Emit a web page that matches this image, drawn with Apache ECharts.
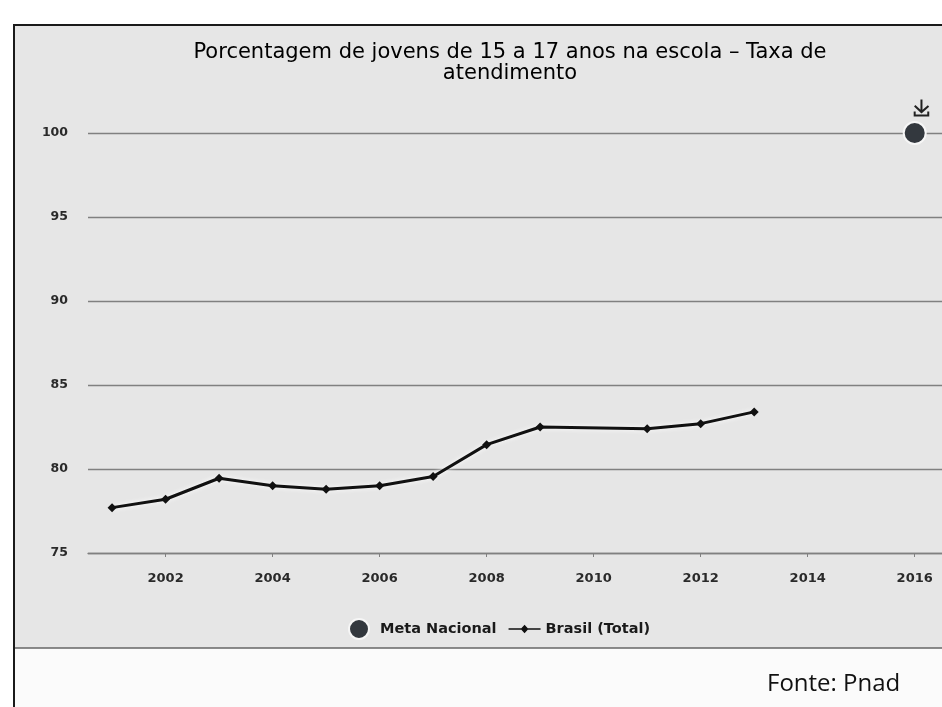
<!DOCTYPE html>
<html lang="pt">
<head>
    <meta charset="UTF-8">
    <title>Taxa de atendimento 15 a 17 anos</title>
    <script src="https://cdn.jsdelivr.net/npm/echarts@6/dist/echarts.min.js"></script>
    <style>
        html, body { margin: 0; padding: 0; background: #fff; }
    </style>
</head>
<body>
<div id="main" style="width: 942px;height:707px;"></div>
<script>
    // dados (Pnad; 2010 sem pesquisa)
    var anos = [2001, 2002, 2003, 2004, 2005, 2006, 2007, 2008, 2009, 2011, 2012, 2013];
    var brasilTotal = [77.7, 78.2, 79.45, 79.0, 78.8, 79.0, 79.55, 81.45, 82.5, 82.4, 82.7, 83.4];
    var metaAno = [2016];
    var metaValor = [100];
    var rotulosAnos = [2002, 2004, 2006, 2008, 2010, 2012, 2014, 2016];

    var myChart = echarts.init(document.getElementById('main'));

    var option = {
        backgroundColor: '#ffffff',
        animation: false,
        title: {
            text: 'Porcentagem de jovens de 15 a 17 anos na escola – Taxa de\natendimento',
            left: 505,
            textAlign: 'center',
            top: 37,
            textStyle: {
                fontFamily: 'DejaVu Sans',
                fontSize: 21,
                fontWeight: 'normal',
                color: '#000',
                lineHeight: 21
            }
        },
        toolbox: {
            right: -4,
            top: 82,
            itemSize: 16,
            iconStyle: { borderColor: '#222', borderWidth: 2 },
            feature: { saveAsImage: { title: '' } }
        },
        legend: {
            left: 343,
            top: 613,
            itemGap: 12,
            textStyle: {
                fontFamily: 'DejaVu Sans',
                fontSize: 14.5,
                fontWeight: 'bold',
                color: '#1a1a1a'
            },
            data: [
                { name: 'Meta Nacional', icon: 'circle', itemStyle: { color: '#33383e', opacity: 1 } },
                { name: 'Brasil (Total)',
                  icon: 'path://M0,9.2 L12,9.2 L15,6 L18,9.2 L30,9.2 L30,10.8 L18,10.8 L15,14 L12,10.8 L0,10.8 Z',
                  itemStyle: { color: '#111' } }
            ],
            itemWidth: 32,
            itemHeight: 20
        },
        graphic: [
            // moldura da página
            { type: 'rect', z: -10, shape: { x: 14, y: 25, width: 960, height: 700 },
              style: { fill: '#fbfbfb', stroke: '#1a1a1a', lineWidth: 2 } },
            { type: 'rect', z: -9, shape: { x: 15, y: 26, width: 960, height: 622 },
              style: { fill: '#e6e6e6' } },
            { type: 'line', z: -8, shape: { x1: 15, y1: 648, x2: 942, y2: 648 },
              style: { stroke: '#666', lineWidth: 1.5 } },
            { type: 'text', z: 5, left: 767, top: 672,
              style: { text: 'Fonte: Pnad', fontFamily: 'Open Sans', fontSize: 24, fill: '#111' } }
        ],
        grid: {
            left: 88,
            right: 0,
            top: 133,
            bottom: 154
        },
        xAxis: {
            type: 'value',
            min: 2000.55,
            max: 2016.51,
            splitLine: { show: false },
            axisLine: { show: true, lineStyle: { color: '#808080', width: 1.3 } },
            axisTick: { show: true, customValues: rotulosAnos, length: 4, lineStyle: { color: '#808080' } },
            axisLabel: {
                customValues: rotulosAnos,
                margin: 19,
                fontFamily: 'DejaVu Sans',
                fontSize: 13,
                fontWeight: 'bold',
                color: '#2a2a2a',
                formatter: function (v) { return String(v); }
            }
        },
        yAxis: {
            type: 'value',
            min: 75,
            max: 100,
            interval: 5,
            axisLine: { show: false },
            axisTick: { show: false },
            axisLabel: {
                margin: 20,
                fontFamily: 'DejaVu Sans',
                fontSize: 12.5,
                fontWeight: 'bold',
                color: '#2a2a2a'
            },
            splitLine: { lineStyle: { color: '#808080', width: 1.3 } }
        },
        series: [
            {
                name: 'Meta Nacional',
                type: 'scatter',
                symbol: 'circle',
                symbolSize: 22,
                itemStyle: { color: '#33383e', opacity: 1, borderColor: '#f6f6f6', borderWidth: 2 },
                data: metaAno.map(function (a, i) { return [a, metaValor[i]]; }),
                z: 3
            },
            {
                name: 'Brasil (Total)',
                type: 'line',
                symbol: 'diamond',
                symbolSize: 9,
                color: '#111',
                lineStyle: { color: '#111', width: 3, shadowColor: '#ffffff', shadowBlur: 5 },
                itemStyle: { color: '#111' },
                data: anos.map(function (a, i) { return [a, brasilTotal[i]]; }),
                z: 4
            }
        ]
    };

    myChart.setOption(option);
</script>
</body>
</html>
